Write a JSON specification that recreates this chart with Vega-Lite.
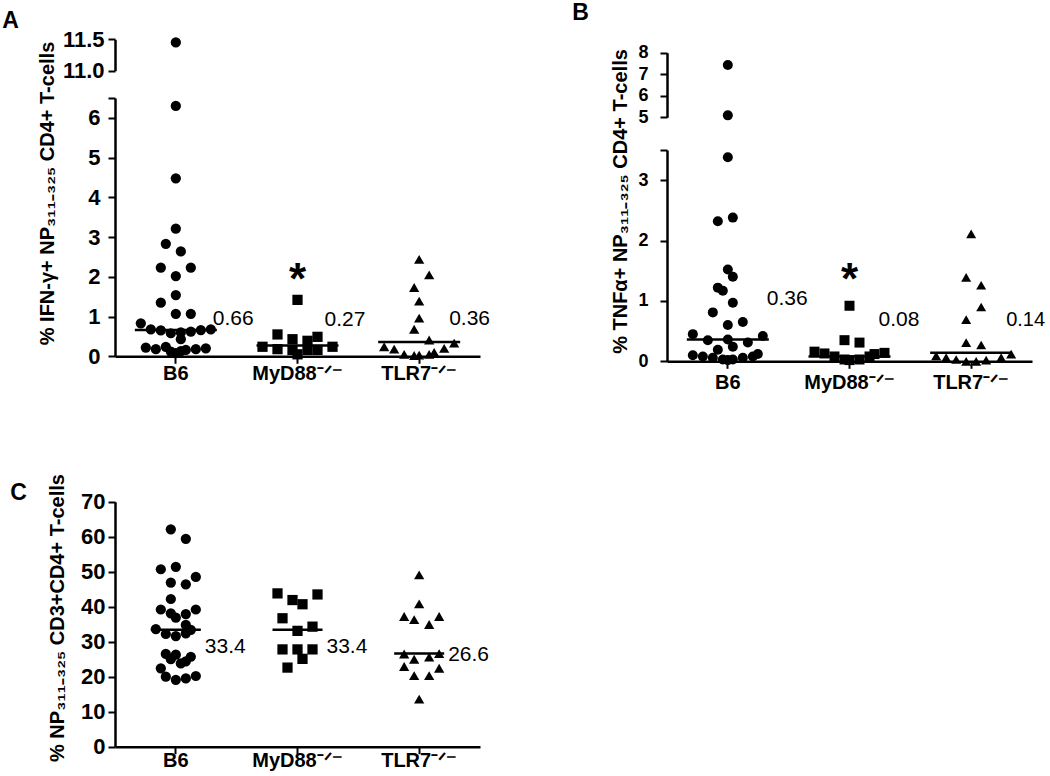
{
  "$schema": "https://vega.github.io/schema/vega-lite/v6.json",
  "width": 1050,
  "height": 776,
  "autosize": {"type": "fit", "contains": "padding"},
  "padding": 0,
  "background": "white",
  "config": {
    "view": {"stroke": null},
    "axis": {"grid": false, "domainColor": "black", "domainWidth": 2.5, "tickColor": "black", "tickWidth": 2, "tickSize": 7, "labelColor": "black", "labelFont": "Liberation Sans", "labelFontWeight": "bold", "labelFontSize": 20, "titleColor": "black", "titleFont": "Liberation Sans", "titleFontWeight": "bold", "titleFontSize": 20, "labelOverlap": false, "labelFlush": false},
    "text": {"font": "Liberation Sans", "color": "black"}
  },
  "datasets": {
    "pts": [
      {"panel":"A","group":"B6","value":11.45,"slot":0},
      {"panel":"A","group":"B6","value":6.30,"slot":0},
      {"panel":"A","group":"B6","value":4.48,"slot":0},
      {"panel":"A","group":"B6","value":3.21,"slot":0},
      {"panel":"A","group":"B6","value":2.83,"slot":-2},
      {"panel":"A","group":"B6","value":2.64,"slot":1},
      {"panel":"A","group":"B6","value":2.23,"slot":-3},
      {"panel":"A","group":"B6","value":2.23,"slot":3},
      {"panel":"A","group":"B6","value":2.02,"slot":0},
      {"panel":"A","group":"B6","value":1.54,"slot":0},
      {"panel":"A","group":"B6","value":1.35,"slot":-3},
      {"panel":"A","group":"B6","value":1.07,"slot":0},
      {"panel":"A","group":"B6","value":1.07,"slot":3},
      {"panel":"A","group":"B6","value":0.83,"slot":-7},
      {"panel":"A","group":"B6","value":0.68,"slot":-5},
      {"panel":"A","group":"B6","value":0.65,"slot":-3},
      {"panel":"A","group":"B6","value":0.58,"slot":-1},
      {"panel":"A","group":"B6","value":0.60,"slot":1},
      {"panel":"A","group":"B6","value":0.62,"slot":3},
      {"panel":"A","group":"B6","value":0.66,"slot":5},
      {"panel":"A","group":"B6","value":0.68,"slot":7},
      {"panel":"A","group":"B6","value":0.43,"slot":1},
      {"panel":"A","group":"B6","value":0.22,"slot":-6},
      {"panel":"A","group":"B6","value":0.18,"slot":-4},
      {"panel":"A","group":"B6","value":0.24,"slot":-2},
      {"panel":"A","group":"B6","value":0.12,"slot":-1},
      {"panel":"A","group":"B6","value":0.08,"slot":0},
      {"panel":"A","group":"B6","value":0.13,"slot":1},
      {"panel":"A","group":"B6","value":0.16,"slot":2},
      {"panel":"A","group":"B6","value":0.18,"slot":4},
      {"panel":"A","group":"B6","value":0.20,"slot":6},
      {"panel":"A","group":"MyD88","value":1.42,"slot":0},
      {"panel":"A","group":"MyD88","value":0.55,"slot":-4},
      {"panel":"A","group":"MyD88","value":0.43,"slot":-1},
      {"panel":"A","group":"MyD88","value":0.39,"slot":2},
      {"panel":"A","group":"MyD88","value":0.49,"slot":4},
      {"panel":"A","group":"MyD88","value":0.24,"slot":-7},
      {"panel":"A","group":"MyD88","value":0.18,"slot":-4},
      {"panel":"A","group":"MyD88","value":0.16,"slot":-1},
      {"panel":"A","group":"MyD88","value":0.16,"slot":2},
      {"panel":"A","group":"MyD88","value":0.16,"slot":4},
      {"panel":"A","group":"MyD88","value":0.24,"slot":7},
      {"panel":"A","group":"MyD88","value":0.05,"slot":0},
      {"panel":"A","group":"TLR7","value":2.44,"slot":0},
      {"panel":"A","group":"TLR7","value":2.05,"slot":2},
      {"panel":"A","group":"TLR7","value":1.73,"slot":-1},
      {"panel":"A","group":"TLR7","value":1.39,"slot":0},
      {"panel":"A","group":"TLR7","value":0.96,"slot":0},
      {"panel":"A","group":"TLR7","value":0.68,"slot":-1},
      {"panel":"A","group":"TLR7","value":0.41,"slot":2},
      {"panel":"A","group":"TLR7","value":0.33,"slot":7},
      {"panel":"A","group":"TLR7","value":0.20,"slot":5},
      {"panel":"A","group":"TLR7","value":0.24,"slot":-7},
      {"panel":"A","group":"TLR7","value":0.18,"slot":-5},
      {"panel":"A","group":"TLR7","value":0.05,"slot":-3},
      {"panel":"A","group":"TLR7","value":0.02,"slot":-1},
      {"panel":"A","group":"TLR7","value":0.03,"slot":0},
      {"panel":"A","group":"TLR7","value":0.05,"slot":2},
      {"panel":"A","group":"TLR7","value":0.10,"slot":3},
      {"panel":"B","group":"B6","value":7.43,"slot":0},
      {"panel":"B","group":"B6","value":5.09,"slot":0},
      {"panel":"B","group":"B6","value":3.38,"slot":0},
      {"panel":"B","group":"B6","value":2.32,"slot":-2},
      {"panel":"B","group":"B6","value":2.38,"slot":1},
      {"panel":"B","group":"B6","value":1.52,"slot":0},
      {"panel":"B","group":"B6","value":1.40,"slot":1},
      {"panel":"B","group":"B6","value":1.22,"slot":-2},
      {"panel":"B","group":"B6","value":1.17,"slot":-1},
      {"panel":"B","group":"B6","value":0.97,"slot":1},
      {"panel":"B","group":"B6","value":0.81,"slot":-3},
      {"panel":"B","group":"B6","value":0.60,"slot":0},
      {"panel":"B","group":"B6","value":0.65,"slot":3},
      {"panel":"B","group":"B6","value":0.45,"slot":-7},
      {"panel":"B","group":"B6","value":0.42,"slot":7},
      {"panel":"B","group":"B6","value":0.35,"slot":-4},
      {"panel":"B","group":"B6","value":0.31,"slot":4},
      {"panel":"B","group":"B6","value":0.36,"slot":0},
      {"panel":"B","group":"B6","value":0.19,"slot":-2},
      {"panel":"B","group":"B6","value":0.24,"slot":1},
      {"panel":"B","group":"B6","value":0.10,"slot":-7},
      {"panel":"B","group":"B6","value":0.08,"slot":-5},
      {"panel":"B","group":"B6","value":0.06,"slot":-3},
      {"panel":"B","group":"B6","value":0.03,"slot":-1},
      {"panel":"B","group":"B6","value":0.02,"slot":0},
      {"panel":"B","group":"B6","value":0.03,"slot":1},
      {"panel":"B","group":"B6","value":0.06,"slot":3},
      {"panel":"B","group":"B6","value":0.08,"slot":5},
      {"panel":"B","group":"B6","value":0.12,"slot":6},
      {"panel":"B","group":"MyD88","value":0.92,"slot":0},
      {"panel":"B","group":"MyD88","value":0.35,"slot":-1},
      {"panel":"B","group":"MyD88","value":0.31,"slot":2},
      {"panel":"B","group":"MyD88","value":0.16,"slot":-7},
      {"panel":"B","group":"MyD88","value":0.13,"slot":-5},
      {"panel":"B","group":"MyD88","value":0.08,"slot":-3},
      {"panel":"B","group":"MyD88","value":0.03,"slot":-1},
      {"panel":"B","group":"MyD88","value":0.02,"slot":0},
      {"panel":"B","group":"MyD88","value":0.03,"slot":2},
      {"panel":"B","group":"MyD88","value":0.08,"slot":4},
      {"panel":"B","group":"MyD88","value":0.12,"slot":5},
      {"panel":"B","group":"MyD88","value":0.14,"slot":7},
      {"panel":"B","group":"TLR7","value":2.11,"slot":0},
      {"panel":"B","group":"TLR7","value":1.39,"slot":-1},
      {"panel":"B","group":"TLR7","value":1.26,"slot":2},
      {"panel":"B","group":"TLR7","value":0.90,"slot":2},
      {"panel":"B","group":"TLR7","value":0.69,"slot":-1},
      {"panel":"B","group":"TLR7","value":0.31,"slot":-1},
      {"panel":"B","group":"TLR7","value":0.27,"slot":2},
      {"panel":"B","group":"TLR7","value":0.09,"slot":-7},
      {"panel":"B","group":"TLR7","value":0.06,"slot":-5},
      {"panel":"B","group":"TLR7","value":0.03,"slot":-3},
      {"panel":"B","group":"TLR7","value":0.00,"slot":-1},
      {"panel":"B","group":"TLR7","value":0.00,"slot":1},
      {"panel":"B","group":"TLR7","value":0.02,"slot":3},
      {"panel":"B","group":"TLR7","value":0.06,"slot":6},
      {"panel":"B","group":"TLR7","value":0.12,"slot":8},
      {"panel":"C","group":"B6","value":62.1,"slot":-1},
      {"panel":"C","group":"B6","value":59.4,"slot":2},
      {"panel":"C","group":"B6","value":51.4,"slot":0},
      {"panel":"C","group":"B6","value":50.7,"slot":-3},
      {"panel":"C","group":"B6","value":48.5,"slot":4},
      {"panel":"C","group":"B6","value":46.9,"slot":-1},
      {"panel":"C","group":"B6","value":46.4,"slot":2},
      {"panel":"C","group":"B6","value":42.2,"slot":-1},
      {"panel":"C","group":"B6","value":39.2,"slot":-3},
      {"panel":"C","group":"B6","value":39.2,"slot":4},
      {"panel":"C","group":"B6","value":38.1,"slot":-1},
      {"panel":"C","group":"B6","value":37.9,"slot":2},
      {"panel":"C","group":"B6","value":36.9,"slot":0},
      {"panel":"C","group":"B6","value":34.8,"slot":2},
      {"panel":"C","group":"B6","value":33.6,"slot":-4},
      {"panel":"C","group":"B6","value":32.2,"slot":-2},
      {"panel":"C","group":"B6","value":31.6,"slot":0},
      {"panel":"C","group":"B6","value":32.4,"slot":2},
      {"panel":"C","group":"B6","value":33.4,"slot":3},
      {"panel":"C","group":"B6","value":26.5,"slot":-2},
      {"panel":"C","group":"B6","value":25.0,"slot":-1},
      {"panel":"C","group":"B6","value":25.7,"slot":3},
      {"panel":"C","group":"B6","value":23.8,"slot":1},
      {"panel":"C","group":"B6","value":26.3,"slot":0},
      {"panel":"C","group":"B6","value":24.4,"slot":2},
      {"panel":"C","group":"B6","value":22.4,"slot":-3},
      {"panel":"C","group":"B6","value":20.0,"slot":-2},
      {"panel":"C","group":"B6","value":19.1,"slot":0},
      {"panel":"C","group":"B6","value":19.5,"slot":2},
      {"panel":"C","group":"B6","value":20.2,"slot":4},
      {"panel":"C","group":"MyD88","value":43.8,"slot":-4},
      {"panel":"C","group":"MyD88","value":41.9,"slot":-1},
      {"panel":"C","group":"MyD88","value":40.7,"slot":1},
      {"panel":"C","group":"MyD88","value":43.5,"slot":4},
      {"panel":"C","group":"MyD88","value":36.7,"slot":-3},
      {"panel":"C","group":"MyD88","value":33.1,"slot":0},
      {"panel":"C","group":"MyD88","value":34.3,"slot":3},
      {"panel":"C","group":"MyD88","value":27.8,"slot":-3},
      {"panel":"C","group":"MyD88","value":27.8,"slot":0},
      {"panel":"C","group":"MyD88","value":27.8,"slot":3},
      {"panel":"C","group":"MyD88","value":25.1,"slot":1},
      {"panel":"C","group":"MyD88","value":22.6,"slot":-2},
      {"panel":"C","group":"TLR7","value":49.1,"slot":0},
      {"panel":"C","group":"TLR7","value":40.8,"slot":0},
      {"panel":"C","group":"TLR7","value":37.2,"slot":-3},
      {"panel":"C","group":"TLR7","value":36.3,"slot":-1},
      {"panel":"C","group":"TLR7","value":34.9,"slot":2},
      {"panel":"C","group":"TLR7","value":37.2,"slot":4},
      {"panel":"C","group":"TLR7","value":26.5,"slot":-3},
      {"panel":"C","group":"TLR7","value":25.0,"slot":-1},
      {"panel":"C","group":"TLR7","value":25.6,"slot":2},
      {"panel":"C","group":"TLR7","value":26.6,"slot":4},
      {"panel":"C","group":"TLR7","value":22.9,"slot":-3},
      {"panel":"C","group":"TLR7","value":22.4,"slot":4},
      {"panel":"C","group":"TLR7","value":20.3,"slot":-1},
      {"panel":"C","group":"TLR7","value":20.3,"slot":2},
      {"panel":"C","group":"TLR7","value":13.6,"slot":0}
    ],
    "med": [
      {"panel":"A","group":"B6","value":0.66},
      {"panel":"A","group":"MyD88","value":0.27},
      {"panel":"A","group":"TLR7","value":0.36},
      {"panel":"B","group":"B6","value":0.36},
      {"panel":"B","group":"MyD88","value":0.08},
      {"panel":"B","group":"TLR7","value":0.14},
      {"panel":"C","group":"B6","value":33.4},
      {"panel":"C","group":"MyD88","value":33.4},
      {"panel":"C","group":"TLR7","value":26.6}
    ]
  },
  "layer": [
    {
      "data": {"name": "pts"},
      "transform": [{"filter": "datum.panel == 'A' && datum.value >= 10"}],
      "mark": {"type": "point", "filled": true, "size": 105, "color": "black", "opacity": 1, "strokeWidth": 0},
      "encoding": {
        "x": {"field": "group", "type": "nominal", "scale": {"type": "band", "domain": ["B6", "MyD88", "TLR7"], "range": [115, 480], "paddingInner": 0, "paddingOuter": 0}, "axis": null},
        "xOffset": {"field": "slot", "type": "quantitative", "scale": {"domain": [-8, 8], "range": [20.83, 100.83]}},
        "y": {"field": "value", "type": "quantitative", "scale": {"domain": [11, 11.5], "range": [70.7, 39.3], "nice": false, "zero": false}, "axis": {"orient": "left", "offset": -115, "values": [11, 11.5], "format": ".1f", "title": null, "labelPadding": 4, "labelFontSize": 22}},
        "shape": {"field": "group", "type": "nominal", "scale": {"domain": ["B6", "MyD88", "TLR7"], "range": ["circle", "square", "triangle-up"]}, "legend": null}
      }
    },
    {
      "encoding": {
        "x": {"field": "group", "type": "nominal", "scale": {"type": "band", "domain": ["B6", "MyD88", "TLR7"], "range": [115, 480], "paddingInner": 0, "paddingOuter": 0}, "axis": {"orient": "bottom", "offset": -419.7, "labelAngle": 0, "labelFontSize": 20, "labelPadding": 0, "labelExpr": "datum.value == 'B6' ? 'B6' : datum.value + '⁻ᐟ⁻'", "title": "A", "titleX": 10, "titleY": -336.3, "titleAngle": 0, "titleAlign": "center", "titleBaseline": "middle", "titleFontSize": 23}},
        "y": {"field": "value", "type": "quantitative", "scale": {"domain": [0, 6.5], "range": [356.3, 98], "nice": false, "zero": false}, "axis": {"orient": "left", "offset": -115, "values": [0, 1, 2, 3, 4, 5, 6, 6.5], "format": "~g", "labelExpr": "datum.value == 6.5 ? '' : datum.label", "labelPadding": 8, "labelFontSize": 22, "title": "% IFN-γ+ NP₃₁₁₋₃₂₅ CD4+ T-cells", "titleX": -68, "titleY": 193, "titleBaseline": "middle"}}
      },
      "layer": [
        {
          "data": {"name": "pts"},
          "transform": [{"filter": "datum.panel == 'A' && datum.value < 10"}],
          "mark": {"type": "point", "filled": true, "size": 105, "color": "black", "opacity": 1, "strokeWidth": 0},
          "encoding": {
            "xOffset": {"field": "slot", "type": "quantitative", "scale": {"domain": [-8, 8], "range": [20.83, 100.83]}},
            "shape": {"field": "group", "type": "nominal", "scale": {"domain": ["B6", "MyD88", "TLR7"], "range": ["circle", "square", "triangle-up"]}, "legend": null}
          }
        },
        {
          "data": {"name": "med"},
          "transform": [{"filter": "datum.panel == 'A'"}],
          "mark": {"type": "tick", "orient": "horizontal", "size": 82, "thickness": 2.5, "color": "black", "opacity": 1}
        },
        {
          "data": {"name": "med"},
          "transform": [{"filter": "datum.panel == 'A' && datum.group == 'B6'"}],
          "mark": {"type": "text", "align": "left", "baseline": "middle", "dx": 37, "dy": -11, "fontSize": 21},
          "encoding": {"text": {"field": "value", "type": "quantitative", "format": ".2f"}}
        },
        {
          "data": {"name": "med"},
          "transform": [{"filter": "datum.panel == 'A' && datum.group == 'MyD88'"}],
          "mark": {"type": "text", "align": "left", "baseline": "middle", "dx": 27, "dy": -26, "fontSize": 21},
          "encoding": {"text": {"field": "value", "type": "quantitative", "format": ".2f"}}
        },
        {
          "data": {"name": "med"},
          "transform": [{"filter": "datum.panel == 'A' && datum.group == 'TLR7'"}],
          "mark": {"type": "text", "align": "left", "baseline": "middle", "dx": 30, "dy": -23, "fontSize": 21},
          "encoding": {"text": {"field": "value", "type": "quantitative", "format": ".2f"}}
        },
        {
          "data": {"name": "pts"},
          "transform": [{"filter": "datum.panel == 'A' && datum.group == 'MyD88'"}, {"joinaggregate": [{"op": "max", "field": "value", "as": "mx"}]}, {"filter": "datum.value == datum.mx"}],
          "mark": {"type": "text", "text": "*", "fontSize": 44, "fontWeight": "bold", "baseline": "alphabetic", "align": "center", "dy": -6}
        }
      ]
    },
    {
      "data": {"name": "pts"},
      "transform": [{"filter": "datum.panel == 'B' && datum.value >= 4"}],
      "mark": {"type": "point", "filled": true, "size": 100, "color": "black", "opacity": 1, "strokeWidth": 0},
      "encoding": {
        "x": {"field": "group", "type": "nominal", "scale": {"type": "band", "domain": ["B6", "MyD88", "TLR7"], "range": [667, 1032], "paddingInner": 0, "paddingOuter": 0}, "axis": null},
        "xOffset": {"field": "slot", "type": "quantitative", "scale": {"domain": [-8, 8], "range": [20.83, 100.83]}},
        "y": {"field": "value", "type": "quantitative", "scale": {"domain": [5, 8], "range": [117.3, 52.7], "nice": false, "zero": false}, "axis": {"orient": "left", "offset": -667, "values": [5, 6, 7, 8], "format": "~g", "title": null, "labelPadding": 12, "labelFontSize": 18}},
        "shape": {"field": "group", "type": "nominal", "scale": {"domain": ["B6", "MyD88", "TLR7"], "range": ["circle", "square", "triangle-up"]}, "legend": null}
      }
    },
    {
      "encoding": {
        "x": {"field": "group", "type": "nominal", "scale": {"type": "band", "domain": ["B6", "MyD88", "TLR7"], "range": [667, 1032], "paddingInner": 0, "paddingOuter": 0}, "axis": {"orient": "bottom", "offset": -414.7, "labelAngle": 0, "labelFontSize": 20, "labelPadding": 4, "labelExpr": "datum.value == 'B6' ? 'B6' : datum.value + '⁻ᐟ⁻'", "title": "B", "titleX": 580, "titleY": -349.3, "titleAngle": 0, "titleAlign": "center", "titleBaseline": "middle", "titleFontSize": 23}},
        "y": {"field": "value", "type": "quantitative", "scale": {"domain": [0, 3.5], "range": [361.3, 150], "nice": false, "zero": false}, "axis": {"orient": "left", "offset": -667, "values": [0, 1, 2, 3, 3.5], "format": "~g", "labelExpr": "datum.value == 3.5 ? '' : datum.label", "labelPadding": 12, "labelFontSize": 18, "title": "% TNFα+ NP₃₁₁₋₃₂₅ CD4+ T-cells", "titleX": -47, "titleY": 201, "titleBaseline": "middle"}}
      },
      "layer": [
        {
          "data": {"name": "pts"},
          "transform": [{"filter": "datum.panel == 'B' && datum.value < 4"}],
          "mark": {"type": "point", "filled": true, "size": 100, "color": "black", "opacity": 1, "strokeWidth": 0},
          "encoding": {
            "xOffset": {"field": "slot", "type": "quantitative", "scale": {"domain": [-8, 8], "range": [20.83, 100.83]}},
            "shape": {"field": "group", "type": "nominal", "scale": {"domain": ["B6", "MyD88", "TLR7"], "range": ["circle", "square", "triangle-up"]}, "legend": null}
          }
        },
        {
          "data": {"name": "med"},
          "transform": [{"filter": "datum.panel == 'B'"}],
          "mark": {"type": "tick", "orient": "horizontal", "size": 82, "thickness": 2.5, "color": "black", "opacity": 1}
        },
        {
          "data": {"name": "med"},
          "transform": [{"filter": "datum.panel == 'B' && datum.group == 'B6'"}],
          "mark": {"type": "text", "align": "left", "baseline": "middle", "dx": 39, "dy": -41, "fontSize": 21},
          "encoding": {"text": {"field": "value", "type": "quantitative", "format": ".2f"}}
        },
        {
          "data": {"name": "med"},
          "transform": [{"filter": "datum.panel == 'B' && datum.group == 'MyD88'"}],
          "mark": {"type": "text", "align": "left", "baseline": "middle", "dx": 29, "dy": -36, "fontSize": 21},
          "encoding": {"text": {"field": "value", "type": "quantitative", "format": ".2f"}}
        },
        {
          "data": {"name": "med"},
          "transform": [{"filter": "datum.panel == 'B' && datum.group == 'TLR7'"}],
          "mark": {"type": "text", "align": "left", "baseline": "middle", "dx": 35, "dy": -33, "fontSize": 20},
          "encoding": {"text": {"field": "value", "type": "quantitative", "format": ".2f"}}
        },
        {
          "data": {"name": "pts"},
          "transform": [{"filter": "datum.panel == 'B' && datum.group == 'MyD88'"}, {"joinaggregate": [{"op": "max", "field": "value", "as": "mx"}]}, {"filter": "datum.value == datum.mx"}],
          "mark": {"type": "text", "text": "*", "fontSize": 44, "fontWeight": "bold", "baseline": "alphabetic", "align": "center", "dy": -12}
        }
      ]
    },
    {
      "encoding": {
        "x": {"field": "group", "type": "nominal", "scale": {"type": "band", "domain": ["B6", "MyD88", "TLR7"], "range": [115, 480], "paddingInner": 0, "paddingOuter": 0}, "axis": {"orient": "bottom", "offset": -29.3, "labelAngle": 0, "labelFontSize": 20, "labelPadding": -3, "labelExpr": "datum.value == 'B6' ? 'B6' : datum.value + '⁻ᐟ⁻'", "title": "C", "titleX": 18, "titleY": -254.7, "titleAngle": 0, "titleAlign": "center", "titleBaseline": "middle", "titleFontSize": 23}},
        "y": {"field": "value", "type": "quantitative", "scale": {"domain": [0, 70], "range": [746.7, 501.7], "nice": false, "zero": false}, "axis": {"orient": "left", "offset": -115, "values": [0, 10, 20, 30, 40, 50, 60, 70], "labelPadding": 3, "labelFontSize": 22, "title": "% NP₃₁₁₋₃₂₅ CD3+CD4+ T-cells", "titleX": -58, "titleY": 617.5, "titleBaseline": "middle"}}
      },
      "layer": [
        {
          "data": {"name": "pts"},
          "transform": [{"filter": "datum.panel == 'C'"}],
          "mark": {"type": "point", "filled": true, "size": 105, "color": "black", "opacity": 1, "strokeWidth": 0},
          "encoding": {
            "xOffset": {"field": "slot", "type": "quantitative", "scale": {"domain": [-8, 8], "range": [20.83, 100.83]}},
            "shape": {"field": "group", "type": "nominal", "scale": {"domain": ["B6", "MyD88", "TLR7"], "range": ["circle", "square", "triangle-up"]}, "legend": null}
          }
        },
        {
          "data": {"name": "med"},
          "transform": [{"filter": "datum.panel == 'C'"}],
          "mark": {"type": "tick", "orient": "horizontal", "size": 50, "thickness": 2.5, "color": "black", "opacity": 1}
        },
        {
          "data": {"name": "med"},
          "transform": [{"filter": "datum.panel == 'C' && datum.group != 'TLR7'"}],
          "mark": {"type": "text", "align": "left", "baseline": "middle", "dx": 29, "dy": 17, "fontSize": 21},
          "encoding": {"text": {"field": "value", "type": "quantitative", "format": ".1f"}}
        },
        {
          "data": {"name": "med"},
          "transform": [{"filter": "datum.panel == 'C' && datum.group == 'TLR7'"}],
          "mark": {"type": "text", "align": "left", "baseline": "middle", "dx": 29, "dy": 1, "fontSize": 21},
          "encoding": {"text": {"field": "value", "type": "quantitative", "format": ".1f"}}
        }
      ]
    }
  ],
  "resolve": {"scale": {"x": "independent", "y": "independent"}, "axis": {"x": "independent", "y": "independent"}}
}
